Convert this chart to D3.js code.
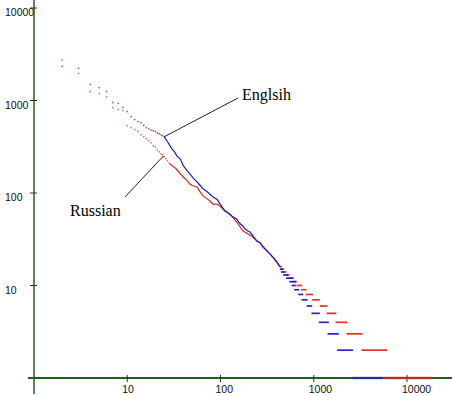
<!DOCTYPE html>
<html>
<head>
<meta charset="utf-8">
<script src="https://cdn.jsdelivr.net/npm/d3@7"></script>
<style>
body { margin: 0; background: #fff; }
svg { display: block; }
</style>
</head>
<body>
<svg id="canvas" width="452" height="396"></svg>
<script>
// rank / frequency readings, [rank, freq]
var englishDots = [[2,2340],[3,2230],[4,1490],[5,1380],[6,1250],[7,950],[8,930],[9,840],[10,760],[11,670],[12,621],[13,591],[14,576],[15,540],[16,509],[17,496],[18,480],[19,470],[20,463],[21,445],[22,438],[23,425],[24,416],[25,406]];
var englishLine = [[25,406],[26,380],[27,358],[28,340],[30,301],[32,280],[34,252],[37,234],[40,196],[44,173],[47,161],[51,145],[56,132],[60,122],[65,111],[72,103],[77,97],[84,90],[92,85],[100,75],[111,64],[118,62],[125,59],[133,56],[150,52],[155,49],[165,46],[173,44],[183,41],[195,39],[207,38],[225,34],[246,30],[265,29],[285,26],[310,24],[339,22],[370,20],[402,18],[433,16]];
// [first rank, last rank, freq]
var englishRuns = [[430,445,16],[433,470,15],[444,482,14],[470,532,13],[502,601,12],[545,643,11],[578,643,10],[617,697,9],[681,770,8],[740,858,7],[837,962,6],[946,1162,5],[1135,1452,4],[1406,1858,3],[1782,2650,2],[2600,5500,1]];

var russianDots = [[2,2720],[3,1960],[4,1250],[5,1190],[6,1100],[7,840],[8,800],[9,780],[10,535],[11,509],[12,484],[13,463],[14,427],[15,406],[16,386],[17,367],[18,349],[19,324],[20,316],[21,293],[22,279],[23,265],[24,259],[25,246],[26,235],[27,223],[28,210],[29,205]];
var russianLine = [[29,205],[31,194],[33,185],[35,173],[37,162],[40,149],[42,142],[45,132],[47,125],[51,119],[56,116],[60,104],[65,93],[70,88],[77,82],[83,76],[92,76],[99,72],[106,67],[115,63],[126,59],[133,56],[141,52],[150,48],[160,44],[173,39],[197,36],[217,34],[240,31],[265,29],[300,25],[339,22],[380,19],[433,16]];
var russianRuns = [[440,480,15],[470,510,14],[500,550,13],[540,610,12],[590,660,11],[654,751,10],[728,837,9],[823,986,8],[962,1162,7],[1162,1406,6],[1371,1755,5],[1713,2303,4],[2245,3333,3],[3250,6120,2],[5500,18500,1]];

var xTicks = [10, 100, 1000, 10000];
var yTicks = [10, 100, 1000, 10000];

var svg = d3.select("#canvas");
var x = d3.scaleLog().domain([1, 10000]).range([34, 407]);
var y = d3.scaleLog().domain([1, 10000]).range([378, 8]);

function drawSeries(dots, line, runs, color) {
	var g = svg.append("g");
	g.selectAll("rect.dot")
		.data(dots)
		.enter()
		.append("rect")
		.attr("class", "dot")
		.attr("x", function(d){ return x(d[0]) - 0.75; })
		.attr("y", function(d){ return y(d[1]) - 0.75; })
		.attr("width", 1.5)
		.attr("height", 1.5)
		.attr("fill", color)
		.attr("opacity", 0.7);

	var lineGenerator = d3.line()
		.x(function(d){ return x(d[0]); })
		.y(function(d){ return y(d[1]); });
	g.append("path")
		.attr("d", lineGenerator(line))
		.attr("style", "stroke-width: 1.2; fill: none; stroke: " + color + ";");

	g.selectAll("line.run")
		.data(runs)
		.enter()
		.append("line")
		.attr("class", "run")
		.attr("x1", function(d){ return x(d[0]); })
		.attr("x2", function(d){ return Math.max(x(d[1]), x(d[0]) + 2); })
		.attr("y1", function(d){ return y(d[2]); })
		.attr("y2", function(d){ return y(d[2]); })
		.attr("stroke", color)
		.attr("stroke-width", function(d){ return d[2] == 1 ? 2.4 : 1.7; })
		.attr("opacity", function(d){ return d[2] == 1 ? 0.7 : 0.95; });
}

// axes first, freq 1 runs sit on top of the x axis
var axisColor = "#215e21";
svg.append("line").attr("x1", 34).attr("x2", 34).attr("y1", 0).attr("y2", 394)
	.attr("stroke", axisColor).attr("stroke-width", 1.5);
svg.append("line").attr("x1", 28).attr("x2", 452).attr("y1", y(1)).attr("y2", y(1))
	.attr("stroke", axisColor).attr("stroke-width", 2);

svg.selectAll("line.ytick")
	.data(yTicks)
	.enter()
	.append("line")
	.attr("x1", 30).attr("x2", 37)
	.attr("y1", function(d){ return y(d); })
	.attr("y2", function(d){ return y(d); })
	.attr("stroke", "#333").attr("stroke-width", 1);
svg.selectAll("text.ylab")
	.data(yTicks)
	.enter()
	.append("text")
	.attr("x", 5)
	.attr("y", function(d){ return y(d) + 8; })
	.attr("style", "font-family: 'Liberation Sans', Arial, sans-serif; font-size: 10.5px; fill: #111;")
	.text(function(d){ return d; });

svg.selectAll("line.xtick")
	.data(xTicks)
	.enter()
	.append("line")
	.attr("x1", function(d){ return x(d); })
	.attr("x2", function(d){ return x(d); })
	.attr("y1", y(1) - 3).attr("y2", y(1) + 4)
	.attr("stroke", "#333").attr("stroke-width", 1);
svg.selectAll("text.xlab")
	.data(xTicks)
	.enter()
	.append("text")
	.attr("x", function(d){ return x(d) - 5; })
	.attr("y", 393)
	.attr("style", "font-family: 'Liberation Sans', Arial, sans-serif; font-size: 10.5px; fill: #111;")
	.text(function(d){ return d; });

drawSeries(russianDots, russianLine, russianRuns, "#e3261c");
drawSeries(englishDots, englishLine, englishRuns, "#1c1cc4");

// labels with leader lines
svg.append("line").attr("x1", 238).attr("y1", 98).attr("x2", x(25)).attr("y2", y(406))
	.attr("stroke", "#222").attr("stroke-width", 1);
svg.append("line").attr("x1", 125).attr("y1", 197).attr("x2", x(24.5)).attr("y2", y(252))
	.attr("stroke", "#222").attr("stroke-width", 1);
svg.append("text").attr("x", 242).attr("y", 100)
	.attr("style", "font-family: 'Liberation Serif', 'Times New Roman', serif; font-size: 16px; fill: #000;")
	.text("Englsih");
svg.append("text").attr("x", 70).attr("y", 216)
	.attr("style", "font-family: 'Liberation Serif', 'Times New Roman', serif; font-size: 16px; fill: #000;")
	.text("Russian");
</script>
</body>
</html>
